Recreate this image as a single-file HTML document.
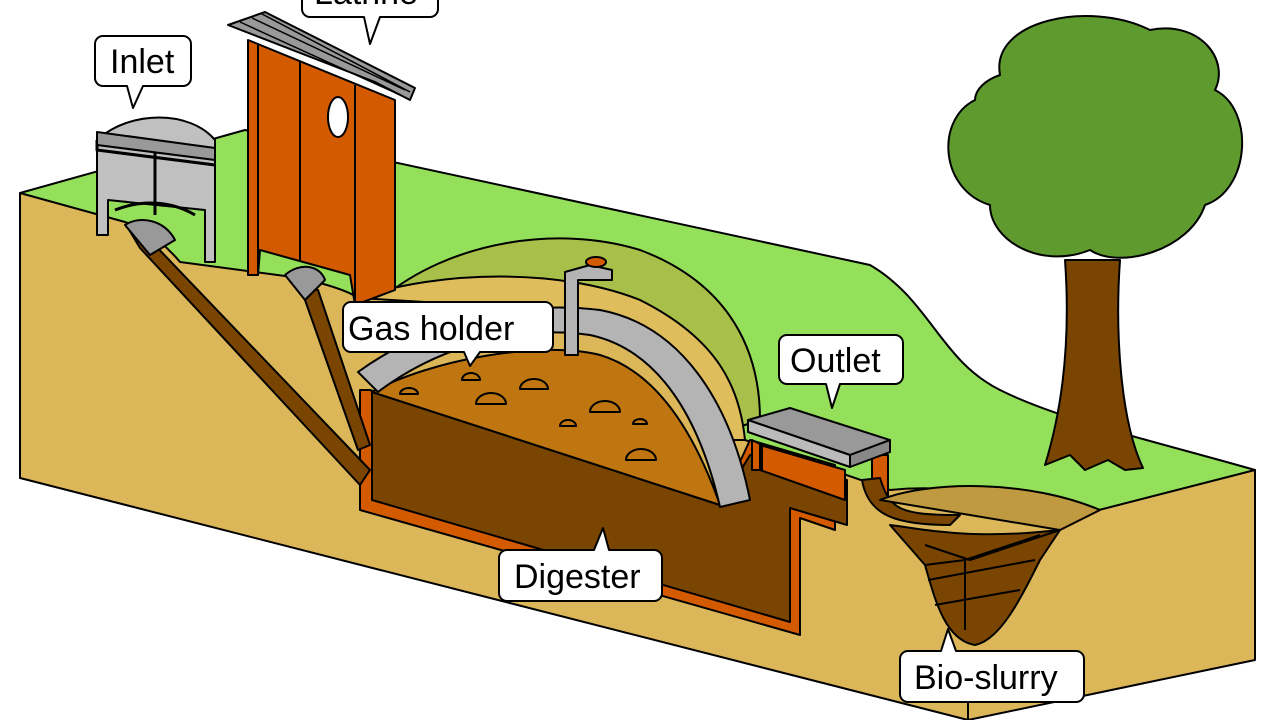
<!DOCTYPE html>
<html><head><meta charset="utf-8"><style>
html,body{margin:0;padding:0;background:#fff;}
svg{display:block;}
text{font-family:"Liberation Sans",sans-serif;font-size:34px;fill:#000;}
</style></head><body>
<svg width="1280" height="720" viewBox="0 0 1280 720" xmlns="http://www.w3.org/2000/svg" stroke-linejoin="round">
<path d="M20,193 L245,130 L870,265 C930,300 940,360 1000,390 C1060,420 1150,440 1255,470 L1060,525 L20,478 Z" fill="#95e05a" stroke="#000" stroke-width="2"/>
<path d="M380,300 C450,240 560,225 640,250 C720,280 760,340 760,420 L700,440 Z" fill="#a8c04a" stroke="#000" stroke-width="2"/>
<path d="M20,193 L125,222 C150,230 170,250 180,262 L300,278 C330,285 350,292 358,298 C420,280 520,275 600,300 C680,330 730,380 745,440 L890,490 C940,485 1000,490 1060,520 L1255,470 L1255,660 L968,720 L20,478 Z" fill="#dcb75a" stroke="#000" stroke-width="2"/>
<line x1="968" y1="720" x2="968" y2="700" stroke="#000" stroke-width="2"/>
<path d="M358,298 C440,270 560,268 640,300 C720,340 740,390 745,440 L720,440 C700,380 660,330 560,310 Z" fill="#e0bd5c" stroke="#000" stroke-width="2"/>
<path d="M360,390 L360,510 L800,635 L800,518 L835,530 L835,465 L750,440 L720,505 L370,390 Z" fill="#d45a00" stroke="#000" stroke-width="2"/>
<path d="M372,392 L372,500 L790,622 L790,508 L847,525 L847,480 L750,455 L720,505 Z" fill="#7a4500" stroke="#000" stroke-width="2"/>
<path d="M372,392 C430,360 540,340 600,355 C650,370 690,420 720,505 Z" fill="#bf7510" stroke="#000" stroke-width="2"/>
<g fill="#bf7510" stroke="#000" stroke-width="2">
<path d="M400,394 a9,6 0 0 1 18,0 Z"/><path d="M476,404 a15,11 0 0 1 30,0 Z"/><path d="M520,389 a14,10 0 0 1 28,0 Z"/><path d="M590,412 a15,11 0 0 1 30,0 Z"/><path d="M560,426 a8,6 0 0 1 16,0 Z"/><path d="M626,460 a15,11 0 0 1 30,0 Z"/><path d="M462,380 a9,7 0 0 1 18,0 Z"/><path d="M633,424 a7,5 0 0 1 14,0 Z"/>
</g>
<path d="M358,372 C430,320 520,300 600,310 C680,325 730,400 750,500 L720,507 C700,420 660,350 590,335 C520,325 440,345 378,392 Z" fill="#b4b4b4" stroke="#000" stroke-width="2"/>
<path d="M565,355 L565,272 L590,265 L612,270 L612,280 L578,280 L578,355 Z" fill="#b4b4b4" stroke="#000" stroke-width="2"/>
<ellipse cx="596" cy="262" rx="10" ry="5" fill="#d45a00" stroke="#000" stroke-width="2"/>
<path d="M128,228 L150,240 L370,470 L360,485 L140,248 Z" fill="#7a4500" stroke="#000" stroke-width="2"/>
<path d="M298,285 L318,290 L370,445 L358,450 L305,300 Z" fill="#7a4500" stroke="#000" stroke-width="2"/>
<path d="M125,225 C140,215 165,220 175,240 L150,255 Z" fill="#999" stroke="#000" stroke-width="2"/>
<path d="M285,275 C300,262 320,265 325,280 L305,300 Z" fill="#999" stroke="#000" stroke-width="2"/>
<path d="M248,40 L395,100 L395,290 L355,305 L350,275 L260,250 L258,275 L248,275 Z" fill="#d45a00" stroke="#000" stroke-width="2"/>
<line x1="258" y1="45" x2="258" y2="275" stroke="#000" stroke-width="2"/>
<line x1="300" y1="62" x2="300" y2="260" stroke="#000" stroke-width="2"/>
<line x1="355" y1="85" x2="355" y2="305" stroke="#000" stroke-width="2"/>
<ellipse cx="338" cy="117" rx="10" ry="20" fill="#fff" stroke="#000" stroke-width="2"/>
<path d="M228,25 L265,12 L415,88 L410,100 L375,82 Z" fill="#999" stroke="#000" stroke-width="2"/>
<path d="M240,22 L400,95 M252,18 L405,90 M262,14 L410,92" stroke="#000" stroke-width="1.5" fill="none"/>
<path d="M97,140 C130,110 190,110 215,140 L215,262 L205,262 L205,210 L108,200 L108,235 L97,235 Z" fill="#c0c0c0" stroke="#000" stroke-width="2"/>
<path d="M97,140 L97,150 L215,165 M155,140 L155,215 M115,210 C140,200 170,200 195,215" stroke="#000" stroke-width="3" fill="none"/>
<path d="M97,132 L215,148 L215,160 L97,145 Z" fill="#999" stroke="#000" stroke-width="2"/>
<path d="M752,440 L752,470 L762,470 L762,445 Z M872,455 L872,500 L888,500 L888,455 Z M760,445 L845,470 L845,500 L760,470 Z" fill="#d45a00" stroke="#000" stroke-width="2"/>
<path d="M748,420 L790,408 L890,440 L850,455 Z" fill="#999" stroke="#000" stroke-width="2"/>
<path d="M748,420 L850,455 L850,467 L748,432 Z" fill="#bbb" stroke="#000" stroke-width="2"/>
<path d="M850,455 L890,440 L890,452 L850,467 Z" fill="#888" stroke="#000" stroke-width="2"/>
<path d="M862,480 L880,478 C890,510 900,515 960,515 L950,525 C895,525 868,515 862,480 Z" fill="#7a4500" stroke="#000" stroke-width="2"/>
<path d="M880,500 C930,480 1030,480 1100,510 L1060,530 Z" fill="#bf9a40" stroke="#000" stroke-width="2"/>
<path d="M890,525 C930,530 970,540 1060,530 L1040,560 C1020,600 1000,640 975,645 C945,640 935,600 925,565 Z" fill="#7a4500" stroke="#000" stroke-width="2"/>
<path d="M925,565 L965,560 L965,630 M965,560 L1040,535 M928,580 L1035,560 M935,605 L1020,590" stroke="#000" stroke-width="2" fill="none"/>
<path d="M925,545 L970,560 L1060,530" fill="none" stroke="#000" stroke-width="2"/>
<path d="M1065,260 C1070,330 1065,400 1045,465 L1070,455 L1085,470 L1108,460 L1125,470 L1143,468 C1120,420 1115,330 1120,260 Z" fill="#7a4500" stroke="#000" stroke-width="2"/>
<path d="M1000,75 C990,20 1090,0 1150,30 C1200,20 1230,60 1215,90 C1255,110 1250,190 1205,205 C1190,250 1120,270 1090,250 C1040,270 990,240 990,205 C940,190 935,120 975,100 C975,90 985,80 1000,75 Z" fill="#5f9a2e" stroke="#000" stroke-width="2"/>
<g fill="#fff" stroke="#000" stroke-width="2">
<path d="M103,36 h80 a8,8 0 0 1 8,8 v34 a8,8 0 0 1 -8,8 h-40 l-10,22 l-6,-22 h-24 a8,8 0 0 1 -8,-8 v-34 a8,8 0 0 1 8,-8 Z"/>
<path d="M310,-20 h120 a8,8 0 0 1 8,8 v21 a8,8 0 0 1 -8,8 h-50 l-10,27 l-6,-27 h-54 a8,8 0 0 1 -8,-8 v-21 a8,8 0 0 1 8,-8 Z"/>
<path d="M351,302 h194 a8,8 0 0 1 8,8 v34 a8,8 0 0 1 -8,8 h-65 l-10,14 l-6,-14 h-113 a8,8 0 0 1 -8,-8 v-34 a8,8 0 0 1 8,-8 Z"/>
<path d="M787,335 h108 a8,8 0 0 1 8,8 v33 a8,8 0 0 1 -8,8 h-55 l-8,24 l-6,-24 h-39 a8,8 0 0 1 -8,-8 v-33 a8,8 0 0 1 8,-8 Z"/>
<path d="M507,550 h87 l9,-22 l6,22 h45 a8,8 0 0 1 8,8 v35 a8,8 0 0 1 -8,8 h-147 a8,8 0 0 1 -8,-8 v-35 a8,8 0 0 1 8,-8 Z"/>
<path d="M908,651 h33 l7,-22 l8,22 h120 a8,8 0 0 1 8,8 v35 a8,8 0 0 1 -8,8 h-168 a8,8 0 0 1 -8,-8 v-35 a8,8 0 0 1 8,-8 Z"/>
</g>
<text x="110" y="73">Inlet</text>
<text x="314" y="4">Latrine</text>
<text x="348" y="340">Gas holder</text>
<text x="790" y="372">Outlet</text>
<text x="514" y="588">Digester</text>
<text x="914" y="689">Bio-slurry</text>
</svg>
</body></html>
